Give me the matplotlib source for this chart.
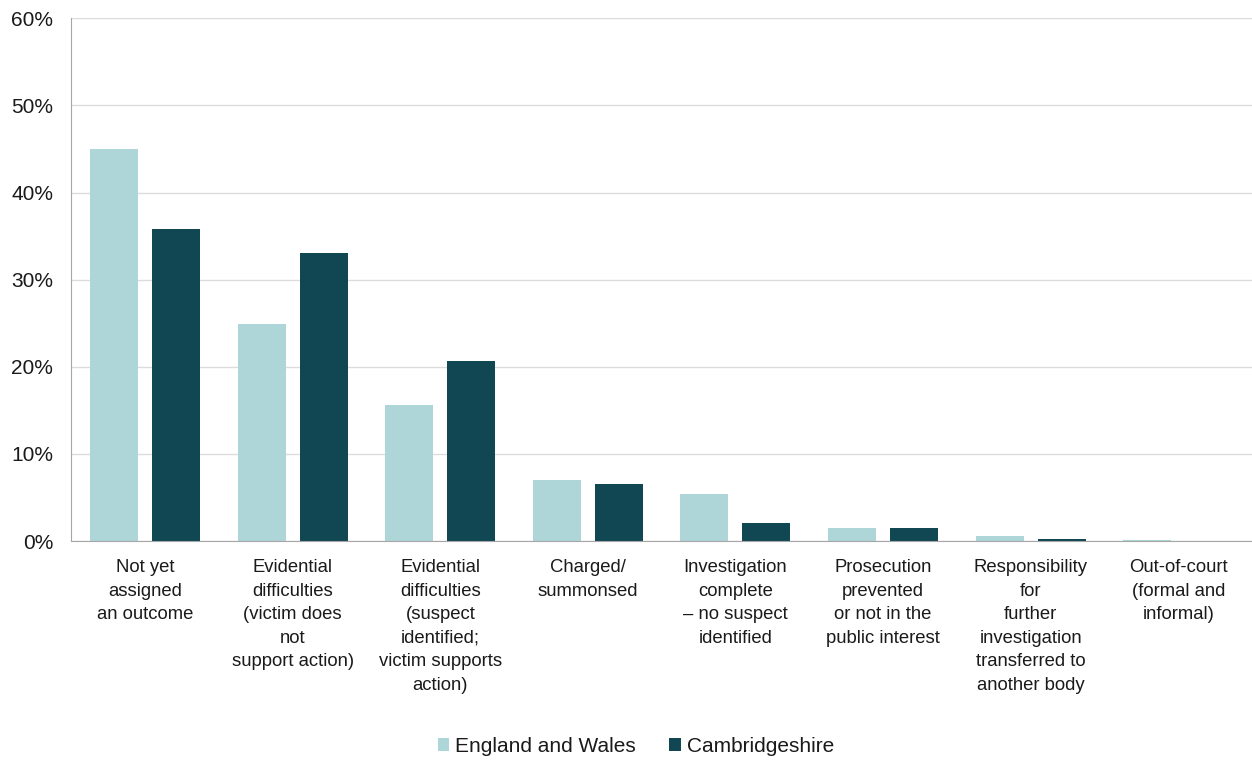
import numpy as np
import matplotlib.pyplot as plt
from matplotlib.ticker import FuncFormatter

plt.rcParams['font.family'] = ['Liberation Sans', 'DejaVu Sans']

# Data
categories = [
    "Not yet\nassigned\nan outcome",
    "Evidential\ndifficulties\n(victim does\nnot\nsupport action)",
    "Evidential\ndifficulties\n(suspect\nidentified;\nvictim supports\naction)",
    "Charged/\nsummonsed",
    "Investigation\ncomplete\n\u2013 no suspect\nidentified",
    "Prosecution\nprevented\nor not in the\npublic interest",
    "Responsibility\nfor\nfurther\ninvestigation\ntransferred to\nanother body",
    "Out-of-court\n(formal and\ninformal)",
]
england_wales = [45.0, 24.9, 15.6, 7.0, 5.4, 1.5, 0.6, 0.1]
cambridgeshire = [35.8, 33.1, 20.7, 6.6, 2.1, 1.5, 0.3, 0.05]
series_names = ["England and Wales", "Cambridgeshire"]
yticks = [0, 10, 20, 30, 40, 50, 60]

ew_color = '#AED5D8'
cb_color = '#104752'
text_color = '#1a1a1a'

fig = plt.figure(figsize=(12.52, 7.6), dpi=100)
ax = fig.add_axes([0.057, 0.288, 0.943, 0.688])

x = np.arange(len(categories))
width = 0.325
offset = 0.21
ax.bar(x - offset, england_wales, width, color=ew_color, label=series_names[0], zorder=2)
ax.bar(x + offset, cambridgeshire, width, color=cb_color, label=series_names[1], zorder=2)

ax.set_xlim(-0.5, len(categories) - 0.5)
ax.set_ylim(0, 60)
ax.set_yticks(yticks)
ax.yaxis.set_major_formatter(FuncFormatter(lambda v, p: f"{v:.0f}%"))
ax.grid(axis='y', color='#dcdcdc', linewidth=1, zorder=0)

ax.set_xticks(x)
ax.set_xticklabels(categories, fontsize=13.3, color=text_color, linespacing=1.5, va='top')
ax.tick_params(axis='x', length=0, pad=13)
ax.tick_params(axis='y', length=0, pad=13, labelsize=15, labelcolor=text_color)

for side in ['top', 'right']:
    ax.spines[side].set_visible(False)
ax.spines['left'].set_color('#a6a6a6')
ax.spines['bottom'].set_color('#a6a6a6')

fig.legend(loc='center', bbox_to_anchor=(0.508, 0.018), ncol=2, frameon=False,
           fontsize=15, handlelength=0.55, handleheight=0.55, handletextpad=0.3,
           columnspacing=1.6, labelcolor=text_color)

fig.savefig("out.png", dpi=100)
